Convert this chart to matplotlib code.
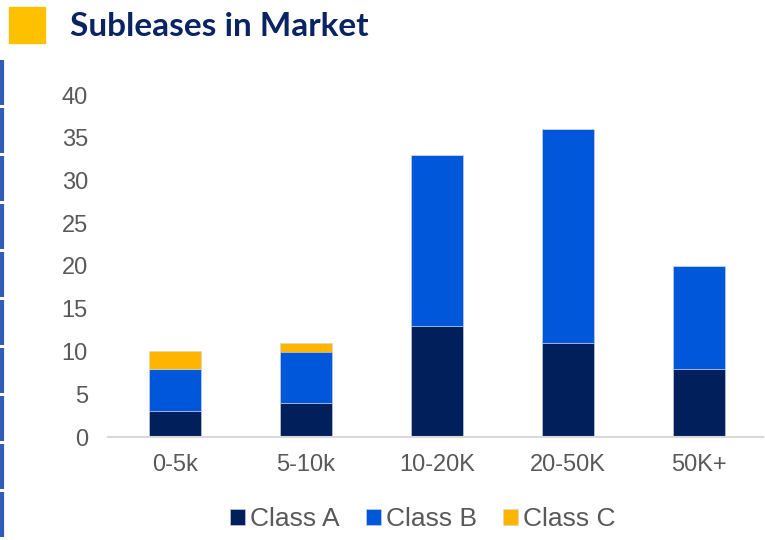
import matplotlib.pyplot as plt
from matplotlib.patches import Rectangle
from matplotlib.lines import Line2D
import numpy as np

# subleases by size bracket, split by building class
categories = ["0-5k", "5-10k", "10-20K", "20-50K", "50K+"]
class_a = [3, 4, 13, 11, 8]
class_b = [5, 6, 20, 25, 12]
class_c = [2, 1, 0, 0, 0]

col_a = "#001F5B"
col_b = "#0057D9"
col_c = "#FFB500"
grey_txt = "#595959"

plt.rcParams["font.family"] = ["Liberation Sans", "DejaVu Sans"]

fig = plt.figure(figsize=(7.65, 5.4), dpi=100)
ax = fig.add_axes([108 / 765, 1 - 437 / 540, 655 / 765, 342 / 540])

x = np.arange(len(categories))
w = 0.4
a = np.array(class_a)
b = np.array(class_b)
c = np.array(class_c)
ax.bar(x, a, w, color=col_a, label="Class A", edgecolor="#d0d6e6", linewidth=0.4)
ax.bar(x, b, w, bottom=a, color=col_b, label="Class B", edgecolor="#d0d6e6", linewidth=0.4)
ax.bar(x, c, w, bottom=a + b, color=col_c, label="Class C", edgecolor="#d0d6e6", linewidth=0.4)

ax.set_xlim(-0.51, 4.49)
ax.set_ylim(0, 40)
ax.set_yticks(range(0, 41, 5))
ax.set_xticks(x)
ax.set_xticklabels(categories)
ax.tick_params(axis="both", length=0, labelsize=17, labelcolor=grey_txt)
ax.tick_params(axis="y", pad=14.5)
ax.tick_params(axis="x", pad=12)
for s in ["top", "right", "left"]:
    ax.spines[s].set_visible(False)
ax.spines["bottom"].set_color("#D9D9D9")
ax.spines["bottom"].set_linewidth(1.5)

leg = fig.legend(loc="center", bbox_to_anchor=(0.553, 1 - 519 / 540), ncol=3,
                 frameon=False, fontsize=19, handlelength=0.55, handleheight=0.55,
                 handletextpad=0.2, columnspacing=1.0, labelcolor=grey_txt)

# title block
fig.patches.append(Rectangle((9 / 765, 1 - 43 / 540), 36 / 765, 36 / 540,
                             transform=fig.transFigure, color="#FFC000"))
fig.text(70 / 765, 1 - 27 / 540, "Subleases in Market", fontsize=24,
         fontweight="bold", color="#0A2463", va="center", ha="left",
         family=["Lato", "DejaVu Sans"])

# dashed blue rule down the left edge
for y0 in range(60, 540, 48):
    fig.lines.append(Line2D([1.5 / 765, 1.5 / 765], [1 - y0 / 540, 1 - (y0 + 45) / 540],
                            transform=fig.transFigure, color="#2E5CB8", linewidth=3,
                            solid_capstyle="butt"))

fig.savefig("out.png", dpi=100)
